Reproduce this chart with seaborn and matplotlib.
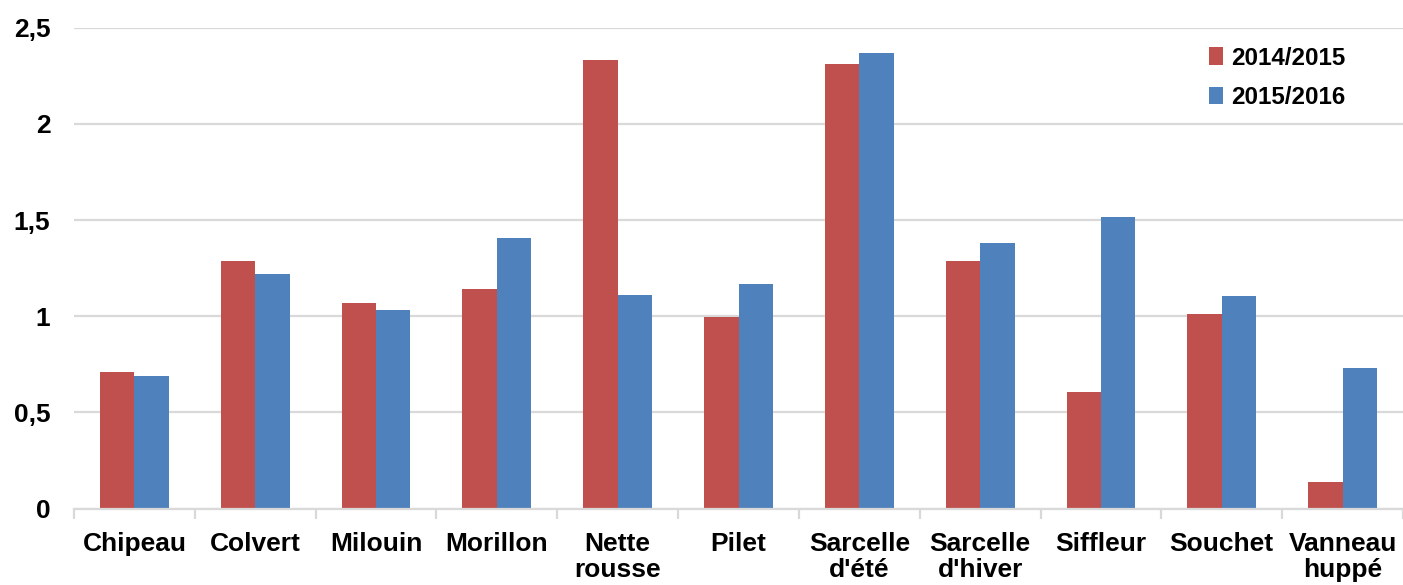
import matplotlib
matplotlib.use("Agg")
import matplotlib.pyplot as plt
from matplotlib.ticker import FixedLocator, FuncFormatter
import seaborn as sns
import pandas as pd

# Species (x categories) and indices per season
species = ["Chipeau", "Colvert", "Milouin", "Morillon", "Nette\nrousse", "Pilet",
           "Sarcelle\nd'été", "Sarcelle\nd'hiver", "Siffleur", "Souchet", "Vanneau\nhuppé"]
seasons = ["2014/2015", "2015/2016"]
values_2014_2015 = [0.708, 1.287, 1.069, 1.141, 2.334, 0.998, 2.311, 1.287, 0.604, 1.012, 0.136]
values_2015_2016 = [0.687, 1.219, 1.032, 1.407, 1.110, 1.167, 2.369, 1.381, 1.514, 1.103, 0.729]
y_ticks = [0, 0.5, 1, 1.5, 2, 2.5]

df = pd.DataFrame({
    "espece": species * 2,
    "saison": [seasons[0]] * len(species) + [seasons[1]] * len(species),
    "valeur": values_2014_2015 + values_2015_2016,
})

sns.set_theme(style="white")
plt.rcParams["font.family"] = ["Liberation Sans", "DejaVu Sans"]
plt.rcParams["text.color"] = "black"
plt.rcParams["xtick.color"] = "black"
plt.rcParams["ytick.color"] = "black"

fig = plt.figure(figsize=(14.03, 5.85), dpi=100)
ax = fig.add_axes([74 / 1403, 1 - 508.5 / 585, 1 - 74 / 1403, (508.5 - 27.7) / 585])

palette = {seasons[0]: "#C0504D", seasons[1]: "#4F81BD"}
sns.barplot(data=df, x="espece", y="valeur", hue="saison", palette=palette,
            width=0.57, saturation=1, ax=ax, legend=True, edgecolor="none")

ax.set_xlim(-0.5, len(species) - 0.5)
ax.set_ylim(0, 2.5)
ax.yaxis.set_major_locator(FixedLocator(y_ticks))
ax.yaxis.set_major_formatter(FuncFormatter(lambda v, _: f"{v:g}".replace(".", ",")))
ax.grid(axis="y", color="#D9D9D9", linewidth=1.6, zorder=0)
ax.set_axisbelow(True)

for side in ["top", "right", "left"]:
    ax.spines[side].set_visible(False)
ax.spines["bottom"].set_color("#D9D9D9")
ax.spines["bottom"].set_linewidth(1.6)

ax.set_xlabel("")
ax.set_ylabel("")
ax.tick_params(axis="x", which="major", length=0, pad=17, labelcolor="black")
ax.xaxis.set_minor_locator(FixedLocator([i - 0.5 for i in range(len(species) + 1)]))
ax.tick_params(axis="x", which="minor", length=7, width=1.6, color="#D9D9D9", bottom=True)
ax.tick_params(axis="y", length=0, pad=17, labelcolor="black")

for lbl in ax.get_xticklabels():
    lbl.set_fontsize(19)
    lbl.set_fontweight("bold")
    lbl.set_linespacing(1.12)
    lbl.set_verticalalignment("top")
for lbl in ax.get_yticklabels():
    lbl.set_fontsize(19)
    lbl.set_fontweight("bold")

leg = ax.legend(loc="upper right", bbox_to_anchor=(0.973, 1.006), frameon=False,
                prop={"size": 17.4, "weight": "bold"}, handlelength=0.55, handleheight=0.75,
                handletextpad=0.35, labelspacing=0.68)
for t in leg.get_texts():
    t.set_color("black")

fig.savefig("out.png", dpi=100, facecolor="white")
